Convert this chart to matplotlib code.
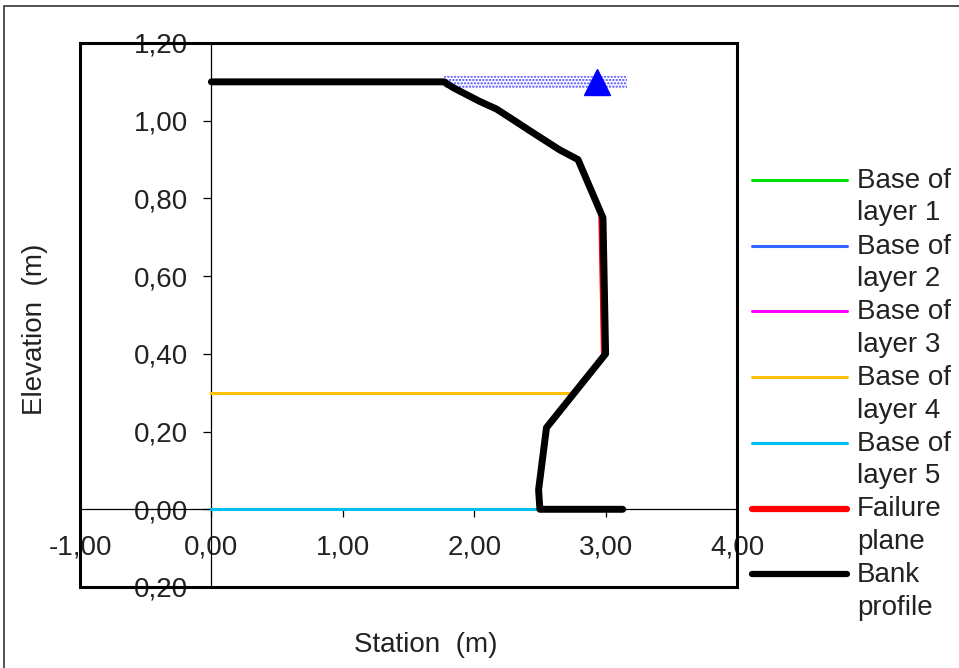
import matplotlib
matplotlib.use("Agg")
import matplotlib.pyplot as plt
from matplotlib.lines import Line2D
from matplotlib.patches import Rectangle
from matplotlib.ticker import FuncFormatter

plt.rcParams['font.family'] = ['Liberation Sans', 'DejaVu Sans']
plt.rcParams['hatch.linewidth'] = 1.1

# bank geometry (m)
bank_station = [0.00, 1.77, 1.84, 2.04, 2.17, 2.33, 2.42, 2.65, 2.79, 2.98, 3.00, 2.55, 2.49, 2.50, 3.13]
bank_elev = [1.10, 1.10, 1.085, 1.05, 1.03, 0.995, 0.975, 0.925, 0.90, 0.75, 0.40, 0.21, 0.05, 0.00, 0.00]

layer4_station = [0.00, 2.75]
layer4_elev = [0.30, 0.30]
layer5_station = [0.00, 2.50]
layer5_elev = [0.00, 0.00]

failure_station = [2.955, 2.975]
failure_elev = [0.76, 0.40]

water_station = [1.77, 3.16]
water_elev = 1.10
water_marker_station = 2.935

legend_labels = ["Base of\nlayer 1", "Base of\nlayer 2", "Base of\nlayer 3", "Base of\nlayer 4",
                 "Base of\nlayer 5", "Failure\nplane", "Bank\nprofile"]
legend_colors = ["#00e000", "#3366ff", "#ff00ff", "#ffc000", "#00c0f0", "#ff0000", "#000000"]
legend_widths = [2.2, 2.2, 2.2, 2.2, 2.2, 4.5, 4.5]

W, H = 959, 668
fig = plt.figure(figsize=(W / 100, H / 100), dpi=100)
ax = fig.add_axes([80 / W, 1 - 587 / H, 657 / W, 544 / H])

ax.set_xlim(-1, 4)
ax.set_ylim(-0.2, 1.2)

# water surface band + marker
ax.fill_between(water_station, water_elev - 0.016, water_elev + 0.016,
                facecolor="none", edgecolor="#4a4aff", hatch=".....", linewidth=0, zorder=2)
ax.plot([water_marker_station], [water_elev], marker="^", color="#0000ff",
        markersize=19, linestyle="none", zorder=5)

# layers and failure plane
ax.plot(layer4_station, layer4_elev, color=legend_colors[3], lw=2.2, zorder=3)
ax.plot(layer5_station, layer5_elev, color=legend_colors[4], lw=2.2, zorder=3)
ax.plot(failure_station, failure_elev, color=legend_colors[5], lw=2.0, zorder=3)
ax.plot(bank_station, bank_elev, color="black", lw=5, solid_joinstyle="round",
        solid_capstyle="round", zorder=4)

# axes crossing at the origin
for s in ["top", "right"]:
    ax.spines[s].set_visible(False)
ax.spines["left"].set_position(("data", 0))
ax.spines["bottom"].set_position(("data", 0))
ax.spines["left"].set_linewidth(0.9)
ax.spines["bottom"].set_linewidth(0.9)
ax.add_patch(Rectangle((0, 0), 1, 1, transform=ax.transAxes, fill=False,
                       lw=2.2, edgecolor="black", clip_on=False, zorder=6))

ax.set_xticks([-1, 0, 1, 2, 3, 4])
ax.set_yticks([-0.2, 0, 0.2, 0.4, 0.6, 0.8, 1.0, 1.2])
ax.xaxis.set_major_formatter(FuncFormatter(lambda v, p: f"{v:.2f}".replace(".", ",")))
ax.yaxis.set_major_formatter(FuncFormatter(lambda v, p: f"{abs(v):.2f}".replace(".", ",")))
ax.tick_params(axis="x", direction="out", length=6, width=0.9, pad=12, labelsize=20, colors="black")
ax.tick_params(axis="y", direction="out", length=6, width=0.9, pad=11, labelsize=20, colors="black")
for lab in ax.get_xticklabels() + ax.get_yticklabels():
    lab.set_color("#222222")

fig.text(426 / W, 1 - 645 / H, "Station  (m)", ha="center", va="center", fontsize=20, color="#222222")
fig.text(35 / W, 1 - 329 / H, "Elevation  (m)", ha="center", va="center", rotation=90,
         fontsize=20, color="#222222")

# legend
for i, (lab, col, lw) in enumerate(zip(legend_labels, legend_colors, legend_widths)):
    y = 180 + i * 65.7
    fig.add_artist(Line2D([752 / W, 847 / W], [1 - y / H, 1 - y / H], color=col, lw=lw,
                          solid_capstyle="round"))
    fig.text(857 / W, 1 - (y - 12) / H, lab, ha="left", va="top", fontsize=20,
             linespacing=1.32, color="#222222")

# outer chart border
fig.add_artist(Rectangle((4 / W, -0.05), 1.1, 1 - 6 / H + 0.05, transform=fig.transFigure,
                         fill=False, lw=1.2, edgecolor="#333333"))

fig.savefig("out.png", dpi=100)
